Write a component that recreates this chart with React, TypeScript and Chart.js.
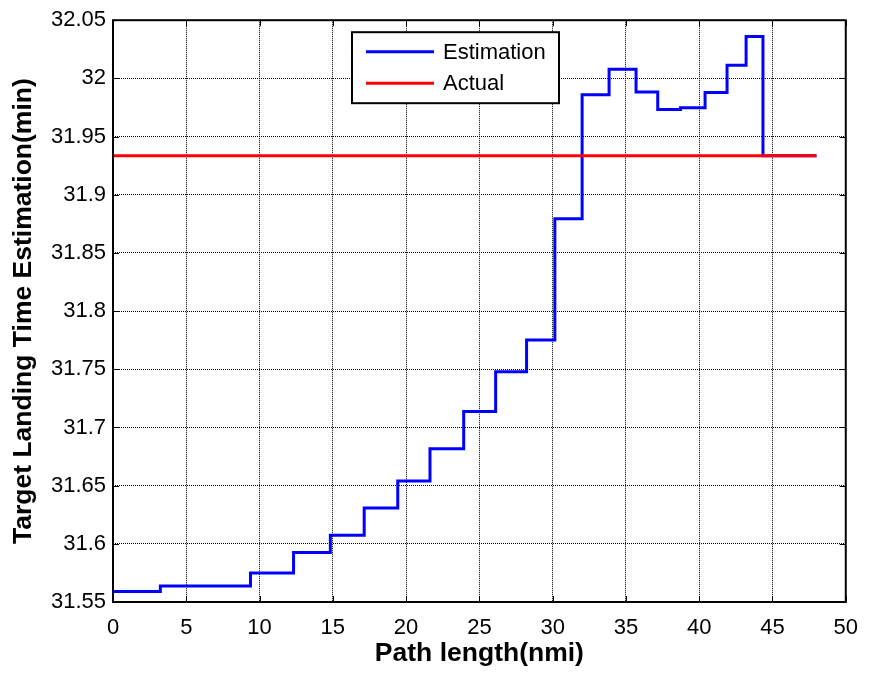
import { useEffect, useRef } from "react";
import { Chart, registerables } from "chart.js";

Chart.register(...registerables);

// Estimated landing time: each value holds from its path length to the next one.
const pathLength = [
  0, 3.23, 9.38, 12.32, 14.83, 17.14, 19.43, 21.63, 23.93, 26.11, 28.22,
  30.15, 32.01, 33.85, 35.69, 37.17, 38.72, 40.4, 41.9, 43.2, 44.35, 48,
];
const estimatedTime = [
  31.559, 31.5637, 31.575, 31.5925, 31.6074, 31.6307, 31.654, 31.6816,
  31.7138, 31.7478, 31.7752, 31.8794, 31.986, 32.0078, 31.9884, 31.9732,
  31.9747, 31.9878, 32.0112, 32.036, 31.9336, 31.9336,
];

// Actual landing time (constant).
const actualPathLength = [0, 48];
const actualTime = [31.9336, 31.9336];

const xTicks = [0, 5, 10, 15, 20, 25, 30, 35, 40, 45, 50];
const yTicks = [
  31.55, 31.6, 31.65, 31.7, 31.75, 31.8, 31.85, 31.9, 31.95, 32, 32.05,
];

const seriesLabels = ["Estimation", "Actual"];
const seriesColors = ["#0000ff", "#ff0000"];
const xTitle = "Path length(nmi)";
const yTitle = "Target Landing Time Estimation(min)";

const FONT = "'Liberation Sans', Arial, Helvetica, sans-serif";

const formatTick = (v: number) => String(Number(v.toFixed(2)));

// Axes box, inward tick marks on all four sides, and the boxed legend.
const framePlugin = {
  id: "frameAndLegend",
  afterDraw(chart: any) {
    const { ctx, chartArea } = chart;
    const { left, right, top, bottom } = chartArea;
    const xs = chart.scales.x;
    const ys = chart.scales.y;
    const tickLen = 6;

    ctx.save();
    ctx.strokeStyle = "#000";
    ctx.lineWidth = 1;
    ctx.beginPath();
    for (const v of xTicks) {
      const px = Math.round(xs.getPixelForValue(v)) + 0.5;
      ctx.moveTo(px, bottom);
      ctx.lineTo(px, bottom - tickLen);
      ctx.moveTo(px, top);
      ctx.lineTo(px, top + tickLen);
    }
    for (const v of yTicks) {
      const py = Math.round(ys.getPixelForValue(v)) + 0.5;
      ctx.moveTo(left, py);
      ctx.lineTo(left + tickLen, py);
      ctx.moveTo(right, py);
      ctx.lineTo(right - tickLen, py);
    }
    ctx.stroke();

    ctx.lineWidth = 2;
    ctx.strokeRect(left, top, right - left, bottom - top);

    // Legend
    const bx = left + 239;
    const by = top + 12;
    const bw = 207;
    const bh = 71;
    ctx.fillStyle = "#fff";
    ctx.fillRect(bx, by, bw, bh);
    ctx.lineWidth = 2;
    ctx.strokeStyle = "#000";
    ctx.strokeRect(bx, by, bw, bh);

    ctx.font = `22px ${FONT}`;
    ctx.textAlign = "left";
    ctx.textBaseline = "middle";
    chart.data.datasets.forEach((ds: any, i: number) => {
      const ly = by + 19.5 + i * 31.5;
      ctx.strokeStyle = ds.borderColor;
      ctx.lineWidth = 3;
      ctx.beginPath();
      ctx.moveTo(bx + 14, ly);
      ctx.lineTo(bx + 82, ly);
      ctx.stroke();
      ctx.fillStyle = "#000";
      ctx.fillText(ds.label, bx + 91, ly + 1);
    });
    ctx.restore();
  },
};

export default function App() {
  const canvasRef = useRef<HTMLCanvasElement | null>(null);

  useEffect(() => {
    const canvas = canvasRef.current;
    if (!canvas) return;

    const chart = new Chart(canvas, {
      type: "line",
      data: {
        datasets: [
          {
            label: seriesLabels[0],
            data: pathLength.map((x, i) => ({ x, y: estimatedTime[i] })),
            borderColor: seriesColors[0],
            backgroundColor: seriesColors[0],
            borderWidth: 3,
            pointRadius: 0,
            stepped: "before",
            fill: false,
            order: 1,
          },
          {
            label: seriesLabels[1],
            data: actualPathLength.map((x, i) => ({ x, y: actualTime[i] })),
            borderColor: seriesColors[1],
            backgroundColor: seriesColors[1],
            borderWidth: 3,
            pointRadius: 0,
            fill: false,
            order: 0,
          },
        ],
      },
      options: {
        responsive: false,
        maintainAspectRatio: false,
        animation: false,
        events: [],
        layout: { padding: { left: 0, top: 18, right: 15, bottom: 0 } },
        plugins: {
          legend: { display: false },
          tooltip: { enabled: false },
        },
        scales: {
          x: {
            type: "linear",
            min: 0,
            max: 50,
            afterBuildTicks: (scale: any) => {
              scale.ticks = xTicks.map((value) => ({ value }));
            },
            afterFit: (scale: any) => {
              scale.height = 73;
            },
            grid: {
              color: "#000",
              lineWidth: 1,
              drawTicks: false,
            },
            border: { display: false, dash: [1, 1] },
            ticks: {
              color: "#000",
              padding: 13,
              maxRotation: 0,
              autoSkip: false,
              font: { family: FONT, size: 22 },
              callback: (v: any) => formatTick(Number(v)),
            },
            title: {
              display: true,
              text: xTitle,
              color: "#000",
              font: { family: FONT, size: 26.5, weight: "bold" },
              padding: { top: 0, bottom: 5 },
            },
          },
          y: {
            type: "linear",
            min: 31.55,
            max: 32.05,
            afterBuildTicks: (scale: any) => {
              scale.ticks = yTicks.map((value) => ({ value }));
            },
            afterFit: (scale: any) => {
              scale.width = 113;
            },
            grid: {
              color: "#000",
              lineWidth: 1,
              drawTicks: false,
            },
            border: { display: false, dash: [1, 1] },
            ticks: {
              color: "#000",
              padding: 7,
              autoSkip: false,
              font: { family: FONT, size: 22 },
              callback: (v: any) => formatTick(Number(v)),
            },
            title: {
              display: true,
              text: yTitle,
              color: "#000",
              font: { family: FONT, size: 26.5, weight: "bold" },
              padding: { top: 8, bottom: 0 },
            },
          },
        },
      },
      plugins: [framePlugin],
    });

    return () => chart.destroy();
  }, []);

  return (
    <div
      style={{
        position: "absolute",
        left: 0,
        top: 0,
        width: 871,
        height: 675,
        background: "#fff",
      }}
    >
      <canvas
        ref={canvasRef}
        width={871}
        height={675}
        style={{ display: "block", width: 871, height: 675 }}
      />
    </div>
  );
}
